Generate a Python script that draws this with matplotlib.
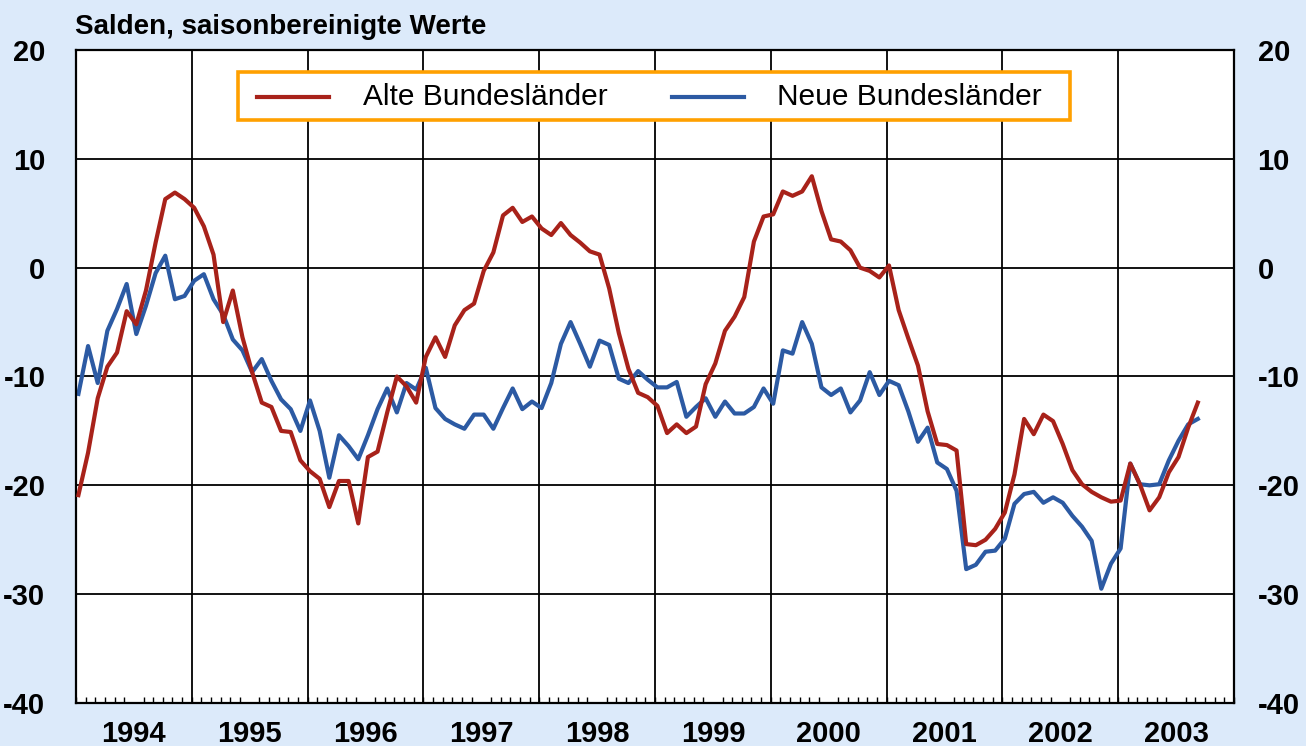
import matplotlib
matplotlib.use("Agg")
import matplotlib.pyplot as plt
from matplotlib.patches import Rectangle
from matplotlib.lines import Line2D
import numpy as np

plt.rcParams['font.family'] = ['Liberation Sans', 'DejaVu Sans']
plt.rcParams['axes.unicode_minus'] = False

title = "Salden, saisonbereinigte Werte"
series_names = ["Alte Bundesländer", "Neue Bundesländer"]
start_year = 1994
n_years = 10
year_labels = [str(y) for y in range(1994, 2004)]
yticks = [-40, -30, -20, -10, 0, 10, 20]

alte = [-20.9, -17.0, -12.0, -9.1, -7.8, -4.0, -5.2, -2.1, 2.3, 6.3, 6.9, 6.3,
        5.5, 3.8, 1.2, -5.0, -2.1, -6.4, -9.6, -12.4, -12.8, -15.0, -15.1, -17.7,
        -18.7, -19.4, -22.0, -19.6, -19.6, -23.5, -17.4, -16.9, -13.3, -10.0, -10.9, -12.4,
        -8.2, -6.4, -8.2, -5.3, -3.9, -3.3, -0.3, 1.4, 4.8, 5.5, 4.2, 4.7,
        3.6, 3.0, 4.1, 3.0, 2.3, 1.5, 1.2, -1.9, -6.0, -9.3, -11.5, -11.9,
        -12.7, -15.2, -14.4, -15.2, -14.6, -10.7, -8.8, -5.8, -4.5, -2.7, 2.4, 4.7,
        4.9, 7.0, 6.6, 7.0, 8.4, 5.2, 2.6, 2.4, 1.6, 0.0, -0.3, -0.9,
        0.2, -3.9, -6.5, -9.0, -13.2, -16.2, -16.3, -16.8, -25.4, -25.5, -25.0, -24.0,
        -22.5, -19.0, -13.9, -15.3, -13.5, -14.1, -16.2, -18.6, -19.9, -20.6, -21.1, -21.5,
        -21.4, -18.0, -19.9, -22.3, -21.1, -18.8, -17.4, -14.7, -12.4]

neue = [-11.6, -7.2, -10.6, -5.8, -3.8, -1.5, -6.1, -3.5, -0.5, 1.1, -2.9, -2.6,
        -1.2, -0.6, -2.9, -4.3, -6.6, -7.6, -9.6, -8.4, -10.4, -12.1, -13.0, -15.0,
        -12.2, -15.0, -19.3, -15.4, -16.4, -17.6, -15.4, -13.0, -11.1, -13.3, -10.6, -11.2,
        -9.2, -12.9, -13.9, -14.4, -14.8, -13.5, -13.5, -14.8, -12.9, -11.1, -13.0, -12.3,
        -12.9, -10.6, -7.0, -5.0, -7.0, -9.1, -6.7, -7.1, -10.2, -10.6, -9.5, -10.3,
        -11.0, -11.0, -10.5, -13.7, -12.8, -12.0, -13.7, -12.3, -13.4, -13.4, -12.8, -11.1,
        -12.5, -7.6, -7.9, -5.0, -7.0, -11.0, -11.7, -11.1, -13.3, -12.2, -9.6, -11.7,
        -10.4, -10.8, -13.2, -16.0, -14.7, -17.9, -18.5, -20.5, -27.7, -27.3, -26.1, -26.0,
        -24.9, -21.7, -20.8, -20.6, -21.6, -21.1, -21.6, -22.8, -23.8, -25.1, -29.5, -27.2,
        -25.8, -18.0, -19.9, -20.0, -19.9, -17.7, -15.9, -14.4, -13.9]

red = "#a8221a"
blue = "#2c5aa3"
bg = "#dceafa"
orange = "#ffa000"

W, H = 1306, 746
fig = plt.figure(figsize=(W / 100, H / 100), dpi=100, facecolor=bg)
L, R, T, B = 76, 1234, 50, 703
ax = fig.add_axes([L / W, 1 - B / H, (R - L) / W, (B - T) / H])
ax.set_facecolor("white")

months = np.arange(len(alte))
x = start_year + (months + 0.25) / 12.0

ax.set_xlim(start_year, start_year + n_years)
ax.set_ylim(-40, 20)

# grid lines
for yv in yticks[1:-1]:
    ax.axhline(yv, color="black", lw=1.3, zorder=1)
for yr in range(start_year + 1, start_year + n_years):
    ax.axvline(yr, color="black", lw=1.3, zorder=1)

ax.plot(x, alte, color=red, lw=3.0, zorder=3, solid_joinstyle="round")
ax.plot(x, neue, color=blue, lw=3.0, zorder=2, solid_joinstyle="round")

for s in ax.spines.values():
    s.set_linewidth(1.6)
    s.set_color("black")

# x axis: year labels at mid-year, monthly minor ticks
ax.set_xticks([start_year + k + 0.5 for k in range(n_years)])
ax.set_xticklabels(year_labels, fontsize=21, fontweight="bold")
ax.set_xticks(np.arange(start_year, start_year + n_years + 1e-9, 1 / 12.0), minor=True)
ax.tick_params(axis="x", which="major", length=0, pad=12.5)
ax.tick_params(axis="x", which="minor", direction="in", length=4.5, width=1.0, top=False)

# y axis labels both sides
ax.set_yticks(yticks)
ax.set_yticklabels([str(v) for v in yticks], fontsize=21, fontweight="bold")
ax.tick_params(axis="y", length=0, pad=22)
sec = ax.secondary_yaxis("right")
sec.set_yticks(yticks)
sec.set_yticklabels([str(v) for v in yticks], fontsize=21, fontweight="bold")
sec.tick_params(axis="y", length=0, pad=17)
sec.spines["right"].set_visible(False)

# title
fig.text(75 / W, 1 - 34 / H, title, fontsize=20, fontweight="bold",
         ha="left", va="baseline")

# legend (drawn in axes coordinates)
def ax_x(px):
    return (px - L) / (R - L)

def ax_y(py):
    return (B - py) / (B - T)

box = Rectangle((ax_x(238), ax_y(120)), ax_x(1070) - ax_x(238), ax_y(72) - ax_y(120),
                transform=ax.transAxes, facecolor="white", edgecolor=orange,
                lw=2.6, zorder=5)
ax.add_patch(box)
ly = ax_y(97)
for (x0, x1, xt), col, name in zip([(257, 329, 363), (672, 744, 777)], [red, blue], series_names):
    ax.add_line(Line2D([ax_x(x0), ax_x(x1)], [ly, ly], transform=ax.transAxes,
                       color=col, lw=3.0, zorder=6))
    ax.text(ax_x(xt), ly, name, transform=ax.transAxes, fontsize=21.5,
            ha="left", va="center", zorder=6)

fig.savefig("out.png", dpi=100, facecolor=bg)
